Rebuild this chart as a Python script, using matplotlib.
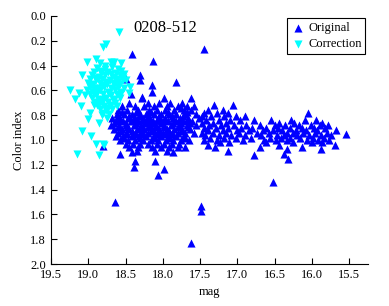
import numpy as np
import matplotlib
matplotlib.use("Agg")
import matplotlib.pyplot as plt

plt.rcParams['font.family'] = ['Liberation Serif', 'DejaVu Serif']

# Original points: (mag, color index)
orig_pts = [
    # main cloud
    (18.28, 0.66), (17.99, 0.66), (17.62, 0.66),
    (18.45, 0.70), (18.20, 0.70), (18.05, 0.70), (17.90, 0.70), (17.75, 0.70),
    (18.55, 0.73), (18.38, 0.73), (18.25, 0.73), (18.12, 0.73), (17.95, 0.73), (17.80, 0.73), (17.68, 0.73), (17.58, 0.73),
    (18.60, 0.76), (18.48, 0.76), (18.33, 0.76), (18.18, 0.76), (18.08, 0.76), (17.97, 0.76), (17.85, 0.76), (17.72, 0.76), (17.62, 0.76),
    (18.62, 0.79), (18.52, 0.79), (18.42, 0.79), (18.30, 0.79), (18.22, 0.79), (18.12, 0.79), (18.02, 0.79), (17.92, 0.79), (17.82, 0.79), (17.70, 0.79), (17.55, 0.79),
    (18.68, 0.82), (18.57, 0.82), (18.47, 0.82), (18.37, 0.82), (18.27, 0.82), (18.17, 0.82), (18.07, 0.82), (17.97, 0.82), (17.87, 0.82), (17.77, 0.82), (17.66, 0.82), (17.52, 0.82),
    (18.63, 0.85), (18.54, 0.85), (18.43, 0.85), (18.33, 0.85), (18.23, 0.85), (18.13, 0.85), (18.03, 0.85), (17.93, 0.85), (17.83, 0.85), (17.73, 0.85), (17.61, 0.85),
    (18.70, 0.88), (18.59, 0.88), (18.49, 0.88), (18.39, 0.88), (18.29, 0.88), (18.19, 0.88), (18.09, 0.88), (17.99, 0.88), (17.89, 0.88), (17.79, 0.88), (17.68, 0.88), (17.56, 0.88),
    (18.65, 0.91), (18.55, 0.91), (18.45, 0.91), (18.35, 0.91), (18.25, 0.91), (18.15, 0.91), (18.05, 0.91), (17.95, 0.91), (17.85, 0.91), (17.74, 0.91), (17.63, 0.91),
    (18.60, 0.94), (18.50, 0.94), (18.40, 0.94), (18.30, 0.94), (18.20, 0.94), (18.10, 0.94), (18.00, 0.94), (17.90, 0.94), (17.80, 0.94), (17.70, 0.94), (17.58, 0.94),
    (18.63, 0.97), (18.53, 0.97), (18.42, 0.97), (18.32, 0.97), (18.22, 0.97), (18.12, 0.97), (18.02, 0.97), (17.92, 0.97), (17.82, 0.97), (17.72, 0.97),
    (18.58, 1.00), (18.47, 1.00), (18.37, 1.00), (18.26, 1.00), (18.16, 1.00), (18.06, 1.00), (17.96, 1.00), (17.86, 1.00), (17.76, 1.00), (17.65, 1.00),
    (18.50, 1.03), (18.40, 1.03), (18.30, 1.03), (18.20, 1.03), (18.08, 1.03), (17.98, 1.03), (17.88, 1.03), (17.78, 1.03),
    (18.45, 1.06), (18.33, 1.06), (18.14, 1.06), (18.02, 1.06), (17.92, 1.06), (17.80, 1.06), (17.70, 1.06),
    (18.35, 1.09), (18.10, 1.09), (17.95, 1.09),
    (18.55, 0.775), (18.36, 0.775), (18.16, 0.775), (17.93, 0.775), (17.67, 0.775),
    (18.60, 0.805), (18.45, 0.805), (18.32, 0.805), (18.20, 0.805), (18.05, 0.805), (17.88, 0.805), (17.73, 0.805),
    (18.58, 0.835), (18.40, 0.835), (18.28, 0.835), (18.18, 0.835), (18.08, 0.835), (17.98, 0.835), (17.78, 0.835), (17.68, 0.835),
    (18.66, 0.865), (18.50, 0.865), (18.36, 0.865), (18.24, 0.865), (18.14, 0.865), (18.02, 0.865), (17.86, 0.865), (17.76, 0.865), (17.64, 0.865),
    (18.60, 0.895), (18.48, 0.895), (18.30, 0.895), (18.20, 0.895), (18.10, 0.895), (17.98, 0.895), (17.80, 0.895), (17.66, 0.895),
    (18.56, 0.925), (18.42, 0.925), (18.28, 0.925), (18.16, 0.925), (18.04, 0.925), (17.92, 0.925), (17.76, 0.925),
    (18.48, 0.955), (18.36, 0.955), (18.26, 0.955), (18.06, 0.955), (17.96, 0.955), (17.86, 0.955),
    (18.52, 0.985), (18.30, 0.985), (18.10, 0.985), (17.90, 0.985), (17.70, 0.985),
    # scattered around the cloud
    (18.42, 0.31), (18.13, 0.36), (17.82, 0.53), (18.50, 0.51), (18.31, 0.48), (18.30, 0.52),
    (18.15, 0.56), (18.43, 0.63), (18.28, 0.65), (18.14, 0.61), (17.76, 0.74),
    (18.64, 1.50), (18.07, 1.28), (17.99, 1.23), (18.39, 1.22), (18.58, 1.11), (18.37, 1.17),
    (18.80, 1.05), (17.86, 1.10), (18.11, 1.17), (18.42, 1.10),
    (17.45, 0.27), (17.49, 1.53), (17.49, 1.57), (17.62, 1.83), (16.53, 1.34),
    # bright tail
    (17.31, 0.72), (17.06, 0.72),
    (17.39, 0.76), (17.20, 0.76),
    (17.45, 0.78), (17.28, 0.78), (17.12, 0.78), (16.05, 0.78),
    (17.48, 0.81), (17.35, 0.81), (17.18, 0.81), (17.02, 0.81), (16.90, 0.81),
    (17.42, 0.84), (17.25, 0.84), (17.10, 0.84), (16.96, 0.84), (16.78, 0.84), (16.55, 0.84), (16.28, 0.84), (16.10, 0.84), (15.95, 0.84),
    (17.47, 0.86), (17.33, 0.86), (17.15, 0.86), (16.44, 0.86), (16.24, 0.86), (15.86, 0.86),
    (17.38, 0.88), (17.22, 0.88), (17.05, 0.88), (16.88, 0.88), (16.70, 0.88), (16.50, 0.88), (16.36, 0.88), (16.18, 0.88), (16.02, 0.88), (15.90, 0.88), (15.78, 0.88),
    (17.45, 0.90), (17.29, 0.90), (17.12, 0.90), (16.95, 0.90), (16.80, 0.90), (16.62, 0.90), (16.45, 0.90), (16.30, 0.90), (16.14, 0.90), (15.98, 0.90), (15.83, 0.90),
    (17.40, 0.92), (17.20, 0.92), (17.00, 0.92), (16.85, 0.92), (16.66, 0.92), (16.52, 0.92), (16.40, 0.92), (16.22, 0.92), (16.08, 0.92), (15.93, 0.92), (15.68, 0.92),
    (17.48, 0.94), (17.33, 0.94), (17.16, 0.94), (16.98, 0.94), (16.74, 0.94), (16.58, 0.94), (16.34, 0.94), (16.26, 0.94), (16.12, 0.94), (15.96, 0.94), (15.80, 0.94),
    (15.55, 0.95),
    (17.43, 0.96), (17.25, 0.96), (17.08, 0.96), (16.90, 0.96), (16.69, 0.96), (16.47, 0.96), (16.37, 0.96), (16.20, 0.96), (16.04, 0.96), (15.88, 0.96), (15.74, 0.96),
    (17.37, 0.98), (17.18, 0.98), (17.02, 0.98), (16.82, 0.98), (16.56, 0.98), (16.42, 0.98), (16.29, 0.98), (16.16, 0.98), (15.99, 0.98), (15.84, 0.98),
    (17.45, 1.00), (17.28, 1.00), (16.93, 1.00), (16.64, 1.00), (16.48, 1.00), (16.33, 1.00), (16.07, 1.00), (15.92, 1.00), (15.77, 1.00),
    (17.24, 1.02), (17.11, 1.02), (16.62, 1.02), (16.25, 1.02), (16.00, 1.02), (15.86, 1.02),
    (17.40, 1.04), (16.44, 1.04), (15.69, 1.04),
    (17.30, 1.06), (16.13, 1.06), (16.70, 1.06),
    (16.33, 1.07), (15.88, 1.07),
    (17.13, 1.09), (16.38, 1.11), (16.78, 1.12), (16.32, 1.15),
]

# Corrected points: (mag, color index)
corr_pts = [
    (18.59, 0.13), (18.80, 0.25), (18.76, 0.23), (19.02, 0.37), (18.89, 0.35), (18.84, 0.38),
    (18.70, 0.37), (18.66, 0.37), (18.56, 0.38), (19.25, 0.60), (19.18, 0.67), (19.10, 0.73),
    (19.09, 0.48), (19.01, 0.83), (19.09, 0.93), (18.96, 0.97), (18.85, 0.86), (18.90, 1.03),
    (18.80, 1.03), (19.15, 1.11), (18.86, 1.12), (18.79, 1.04), (18.44, 0.57), (19.05, 0.64),
    (19.13, 0.62), (18.98, 0.78), (18.82, 0.80), (18.75, 0.82), (18.92, 0.72), (18.46, 0.62),
    (18.50, 0.52), (18.52, 0.47),
    (18.88, 0.42), (18.78, 0.43), (18.68, 0.41), (18.60, 0.43),
    (18.92, 0.45), (18.83, 0.46), (18.73, 0.45), (18.63, 0.46), (18.56, 0.44),
    (18.95, 0.48), (18.86, 0.49), (18.77, 0.48), (18.66, 0.49), (18.58, 0.48),
    (18.98, 0.51), (18.90, 0.52), (18.81, 0.51), (18.71, 0.52), (18.62, 0.51), (18.54, 0.52),
    (19.00, 0.54), (18.93, 0.55), (18.84, 0.54), (18.75, 0.55), (18.65, 0.54), (18.57, 0.55),
    (18.97, 0.57), (18.88, 0.58), (18.79, 0.57), (18.69, 0.58), (18.60, 0.57), (18.52, 0.58),
    (19.02, 0.60), (18.93, 0.61), (18.84, 0.60), (18.74, 0.61), (18.64, 0.60), (18.56, 0.61),
    (18.98, 0.63), (18.89, 0.64), (18.80, 0.63), (18.70, 0.64), (18.61, 0.63),
    (18.95, 0.66), (18.85, 0.67), (18.76, 0.66), (18.67, 0.67), (18.58, 0.66),
    (18.91, 0.69), (18.82, 0.70), (18.73, 0.69), (18.64, 0.70),
    (18.88, 0.72), (18.79, 0.73), (18.70, 0.72), (18.62, 0.73),
    (18.84, 0.75), (18.76, 0.76), (18.68, 0.75),
    (18.80, 0.78), (18.72, 0.79),
    (18.83, 0.44), (18.70, 0.47), (18.90, 0.50), (18.76, 0.53), (18.60, 0.53), (18.95, 0.56),
    (18.82, 0.56), (18.66, 0.56), (18.88, 0.62), (18.72, 0.62), (18.58, 0.64), (18.80, 0.68),
    (18.66, 0.68), (18.86, 0.71), (18.74, 0.74), (18.78, 0.40), (18.92, 0.58), (18.54, 0.50),
]

orig_mag = [p[0] for p in orig_pts]
orig_ci = [p[1] for p in orig_pts]
corr_mag = [p[0] for p in corr_pts]
corr_ci = [p[1] for p in corr_pts]

fig = plt.figure(figsize=(3.89, 3.06), dpi=100)
ax = fig.add_axes([0.131, 0.137, 0.815, 0.811])

ax.scatter(orig_mag, orig_ci, marker='^', s=34, color='#0000ff', linewidths=0, label='Original')
ax.scatter(corr_mag, corr_ci, marker='v', s=34, color='#00ffff', linewidths=0, label='Correction')

ax.set_xlim(19.5, 15.25)
ax.set_ylim(2.0, 0.0)
ax.set_xticks(np.arange(19.5, 15.4, -0.5))
ax.set_yticks(np.arange(0.0, 2.01, 0.2))
ax.set_xticklabels(['%.1f' % v for v in np.arange(19.5, 15.4, -0.5)])
ax.set_yticklabels(['%.1f' % v for v in np.arange(0.0, 2.01, 0.2)])

ax.spines['top'].set_visible(False)
ax.spines['right'].set_visible(False)
ax.tick_params(direction='in', length=4, width=0.8, labelsize=9)

ax.set_xlabel('mag', fontsize=9)
ax.set_ylabel('Color index', fontsize=9)
ax.text(0.259, 0.985, '0208-512', transform=ax.transAxes, fontsize=12, ha='left', va='top')

leg = ax.legend(loc='upper right', fontsize=9, frameon=True, fancybox=False,
                edgecolor='black', framealpha=1, borderaxespad=0.2,
                handletextpad=0.2, handlelength=1.2, borderpad=0.3, labelspacing=0.3)
leg.get_frame().set_linewidth(0.8)

fig.savefig('out.png', dpi=100)
